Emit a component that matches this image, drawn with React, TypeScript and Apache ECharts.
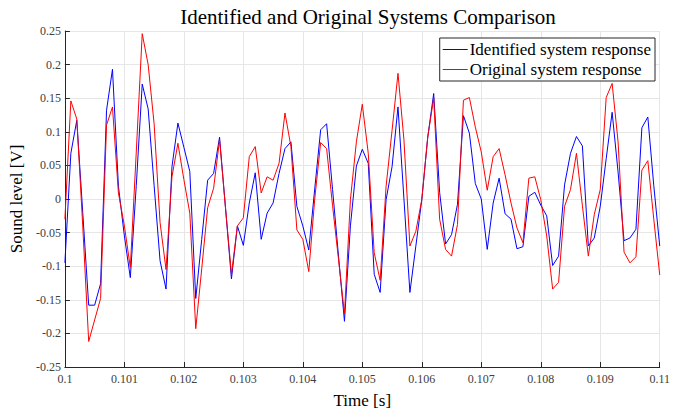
import React, { useEffect, useRef } from "react";
import * as echarts from "echarts";

// Sampling: 10 kHz starting at t = 0.1 s
const T_START = 0.1;
const SAMPLE_PERIOD = 0.0001;

const identifiedResponse = [
  -0.095, 0.068, 0.117, -0.02, -0.158, -0.158, -0.126, 0.132, 0.193, 0.019,
  -0.055, -0.117, 0.02, 0.171, 0.134, 0.02, -0.092, -0.134, 0.048, 0.113,
  0.077, 0.041, -0.148, -0.06, 0.028, 0.038, 0.092, -0.013, -0.119, -0.04,
  -0.069, -0.006, 0.039, -0.06, -0.021, -0.006, 0.038, 0.075, 0.085, -0.011,
  -0.04, -0.076, 0.015, 0.103, 0.112, 0.014, -0.085, -0.182, -0.04, 0.049,
  0.074, 0.053, -0.112, -0.139, -0.001, 0.048, 0.137, 0.0, -0.139, -0.07,
  -0.001, 0.092, 0.157, 0.01, -0.067, -0.053, -0.008, 0.124, 0.098, 0.023,
  0.0, -0.075, -0.006, 0.031, -0.022, -0.03, -0.074, -0.071, 0.004, 0.01,
  -0.009, -0.025, -0.099, -0.085, 0.021, 0.068, 0.093, 0.079, -0.07, -0.058,
  -0.011, 0.06, 0.129, 0.04, -0.062, -0.058, -0.045, 0.106, 0.122, 0.02,
  -0.07,
];

const originalResponse = [
  -0.03, 0.146, 0.119, -0.04, -0.212, -0.18, -0.148, 0.11, 0.137, 0.009,
  -0.04, -0.102, 0.07, 0.246, 0.2, 0.112, -0.035, -0.105, 0.033, 0.083,
  0.029, -0.021, -0.193, -0.104, -0.013, 0.016, 0.088, -0.013, -0.112, -0.04,
  -0.028, 0.063, 0.078, 0.009, 0.033, 0.028, 0.053, 0.128, 0.078, -0.046,
  -0.06, -0.108, 0.0, 0.084, 0.075, -0.01, -0.09, -0.171, -0.001, 0.085,
  0.141, 0.068, -0.08, -0.121, 0.019, 0.102, 0.187, 0.088, -0.07, -0.048,
  -0.001, 0.092, 0.15, -0.03, -0.075, -0.085, -0.038, 0.147, 0.151, 0.107,
  0.07, 0.013, 0.063, 0.075, 0.036, -0.006, -0.043, -0.065, 0.031, 0.033,
  -0.001, -0.055, -0.134, -0.124, -0.011, 0.014, 0.068, -0.01, -0.085, -0.023,
  0.014, 0.151, 0.172, 0.085, -0.079, -0.095, -0.086, 0.043, 0.057, -0.03,
  -0.113,
];

const seriesNames = ["Identified system response", "Original system response"];
const seriesColors = ["#0000ff", "#ff0000"];

const FONT = "'Liberation Serif', serif";
const AXIS_COLOR = "#262626";
const TICK_LABEL_COLOR = "#404040";

const toPoints = (values: number[]) =>
  values.map((v, i) => [T_START + i * SAMPLE_PERIOD, v]);

export default function App() {
  const ref = useRef<HTMLDivElement>(null);

  useEffect(() => {
    document.body.style.margin = "0";
    if (!ref.current) return;
    const chart = echarts.init(ref.current, null, { renderer: "svg" });
    chart.setOption({
      animation: false,
      backgroundColor: "#ffffff",
      title: {
        text: "Identified and Original Systems Comparison",
        left: 363,
        textAlign: "center",
        top: 1,
        textStyle: {
          fontFamily: FONT,
          fontSize: 21,
          fontWeight: "normal",
          color: "#000000",
        },
      },
      legend: {
        orient: "vertical",
        right: 18,
        top: 38,
        backgroundColor: "#ffffff",
        borderColor: AXIS_COLOR,
        borderWidth: 1,
        padding: [3, 4, 3, 3],
        itemGap: 3,
        itemWidth: 25,
        itemHeight: 1,
        icon: "rect",
        textStyle: {
          fontFamily: FONT,
          fontSize: 17,
          color: "#000000",
          padding: [0, 0, 0, -3],
        },
        data: seriesNames,
      },
      grid: { left: 63, right: 12, top: 31, bottom: 45 },
      xAxis: {
        type: "value",
        min: 0.1,
        max: 0.11,
        interval: 0.001,
        name: "Time [s]",
        nameLocation: "middle",
        nameGap: 25,
        nameTextStyle: { fontFamily: FONT, fontSize: 17, color: "#000000" },
        axisLine: { show: true, onZero: false, lineStyle: { color: AXIS_COLOR, width: 1 } },
        axisTick: { show: true, inside: true, length: 5, lineStyle: { color: AXIS_COLOR } },
        axisLabel: {
          fontFamily: FONT,
          fontSize: 12,
          color: TICK_LABEL_COLOR,
          margin: 6,
          formatter: (v: number) => String(+v.toFixed(3)),
        },
        splitLine: { show: true, lineStyle: { color: "#e6e6e6", width: 1 } },
      },
      yAxis: {
        type: "value",
        min: -0.25,
        max: 0.25,
        interval: 0.05,
        name: "Sound level [V]",
        nameLocation: "middle",
        nameGap: 38,
        nameTextStyle: { fontFamily: FONT, fontSize: 17, color: "#000000" },
        axisLine: { show: true, onZero: false, lineStyle: { color: AXIS_COLOR, width: 1 } },
        axisTick: { show: true, inside: true, length: 5, lineStyle: { color: AXIS_COLOR } },
        axisLabel: {
          fontFamily: FONT,
          fontSize: 12,
          color: TICK_LABEL_COLOR,
          margin: 4,
          formatter: (v: number) => String(+v.toFixed(2)),
        },
        splitLine: { show: true, lineStyle: { color: "#e6e6e6", width: 1 } },
      },
      series: [identifiedResponse, originalResponse].map((values, i) => ({
        name: seriesNames[i],
        type: "line",
        data: toPoints(values),
        symbol: "none",
        color: seriesColors[i],
        lineStyle: { color: seriesColors[i], width: 1 },
        z: 2 + i,
      })),
    });
    return () => chart.dispose();
  }, []);

  return <div ref={ref} style={{ width: 673, height: 414 }} />;
}
